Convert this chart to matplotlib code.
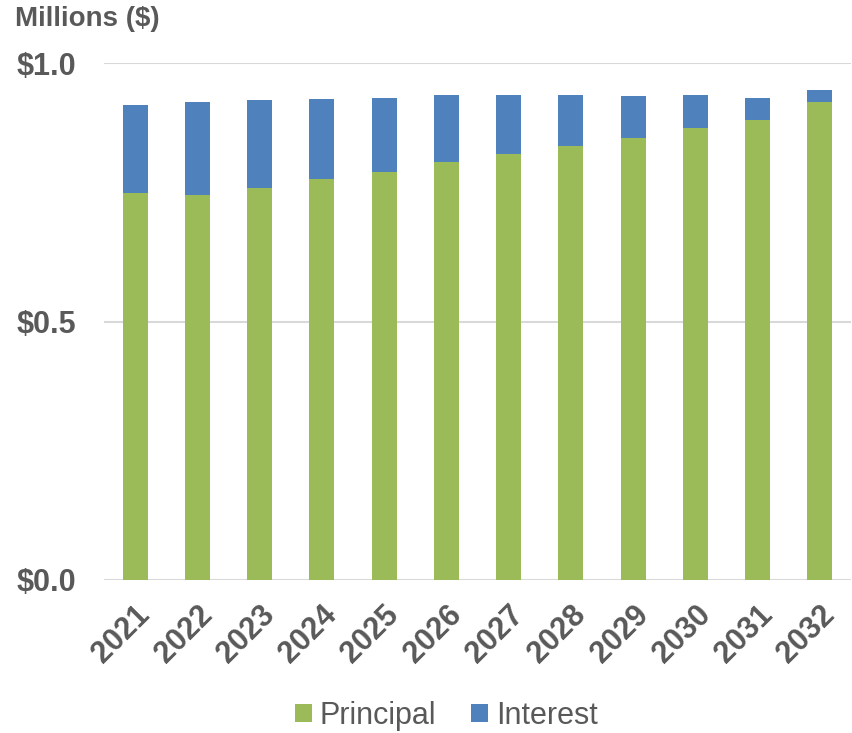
import numpy as np
import matplotlib.pyplot as plt

years = ['2021', '2022', '2023', '2024', '2025', '2026',
         '2027', '2028', '2029', '2030', '2031', '2032']
principal = [0.749, 0.745, 0.759, 0.775, 0.790, 0.809,
             0.824, 0.839, 0.855, 0.874, 0.890, 0.925]
total = [0.918, 0.925, 0.929, 0.931, 0.932, 0.938,
         0.938, 0.938, 0.936, 0.938, 0.933, 0.947]
interest = [t - p for t, p in zip(total, principal)]
yticks = [0.0, 0.5, 1.0]
ylabels = ['$0.0', '$0.5', '$1.0']

plt.rcParams['font.family'] = ['Liberation Sans', 'DejaVu Sans']
gray = '#595959'

fig = plt.figure(figsize=(8.52, 7.33), dpi=100)
ax = fig.add_axes([104 / 852, 1 - 580 / 733, 747 / 852, 517 / 733])

x = np.arange(len(years))
ax.bar(x, principal, width=0.4, color='#9BBB59', label='Principal', zorder=3)
ax.bar(x, interest, width=0.4, bottom=principal, color='#4F81BD', label='Interest', zorder=3)

ax.set_xlim(-0.5, 11.5)
ax.set_ylim(0, 1.0)
ax.set_yticks(yticks)
ax.set_yticklabels(ylabels, fontsize=22, fontweight='bold', color=gray)
ax.set_xticks(x)
ax.set_xticklabels(years, fontsize=22, fontweight='bold', color=gray,
                   rotation=45, ha='right', rotation_mode='anchor')
ax.tick_params(axis='both', length=0)
ax.tick_params(axis='y', pad=20)
ax.tick_params(axis='x', pad=14)
ax.grid(axis='y', color='#D9D9D9', linewidth=1.5, zorder=0)
for s in ax.spines.values():
    s.set_visible(False)

fig.text(15 / 852, 1 - 19 / 733, 'Millions ($)', fontsize=20, fontweight='bold',
         color=gray, va='center', ha='left')

fig.legend(loc='center', bbox_to_anchor=(0.524, 1 - 716 / 733), ncol=2, frameon=False,
           fontsize=22, labelcolor=gray, handlelength=0.55, handleheight=0.55,
           handletextpad=0.25, columnspacing=1.15)

fig.savefig('out.png', dpi=100)
